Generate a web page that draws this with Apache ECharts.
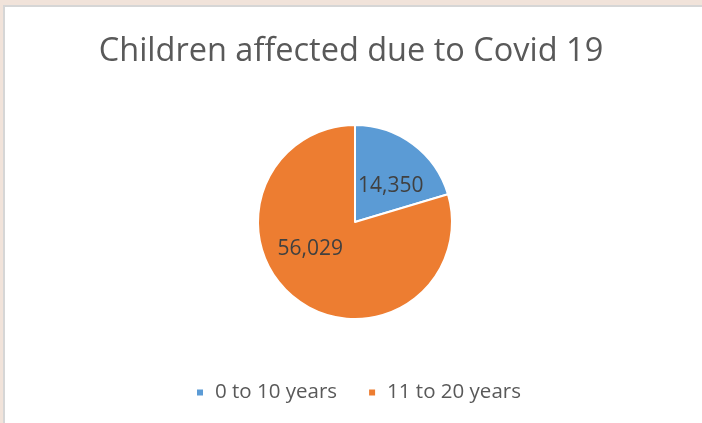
<!DOCTYPE html>
<html>
<head>
<meta charset="utf-8">
<script src="https://cdn.jsdelivr.net/npm/echarts@6/dist/echarts.min.js"></script>
<style>
  html, body { margin: 0; padding: 0; background: #f1e3da; width: 702px; height: 423px; overflow: hidden; }
  #frame { position: absolute; left: 3px; top: 5px; width: 710px; height: 430px; background: #ffffff; border: 2px solid #d6d6d6; box-sizing: border-box; }
  #chart { position: absolute; left: 0; top: 0; width: 702px; height: 423px; }
</style>
</head>
<body>
<div id="frame"></div>
<div id="chart"></div>
<script>
const titleText = 'Children affected due to Covid 19';
const categories = ['0 to 10 years', '11 to 20 years'];
const values = [14350, 56029];
const colors = ['#5b9bd5', '#ed7d31'];
const labelOffsets = [[5, 5], [-14, -14]];

const chart = echarts.init(document.getElementById('chart'), null, { renderer: 'canvas' });
const fontFam = '"Open Sans", "Noto Sans", sans-serif';

chart.setOption({
  animation: false,
  title: {
    text: titleText,
    left: 'center',
    top: 30,
    textStyle: { fontFamily: fontFam, fontSize: 32.5, fontWeight: 'normal', color: '#595959' }
  },
  legend: {
    bottom: 15,
    left: 190,
    icon: 'rect',
    itemWidth: 8,
    itemHeight: 8,
    itemGap: 30,
    textStyle: { fontFamily: fontFam, fontSize: 20.5, color: '#595959', padding: [0, 0, 0, 6] },
    data: categories
  },
  series: [{
    type: 'pie',
    center: [355, 222],
    radius: 97,
    startAngle: 90,
    clockwise: true,
    itemStyle: { borderColor: '#ffffff', borderWidth: 2 },
    label: {
      show: true,
      position: 'inside',
      fontFamily: fontFam,
      fontSize: 21,
      color: '#404040',
      formatter: p => p.value.toLocaleString('en-US')
    },
    labelLine: { show: false },
    emphasis: { disabled: true },
    data: categories.map((c, i) => ({
      name: c,
      value: values[i],
      itemStyle: { color: colors[i] },
      label: { offset: labelOffsets[i] }
    }))
  }]
});
</script>
</body>
</html>
